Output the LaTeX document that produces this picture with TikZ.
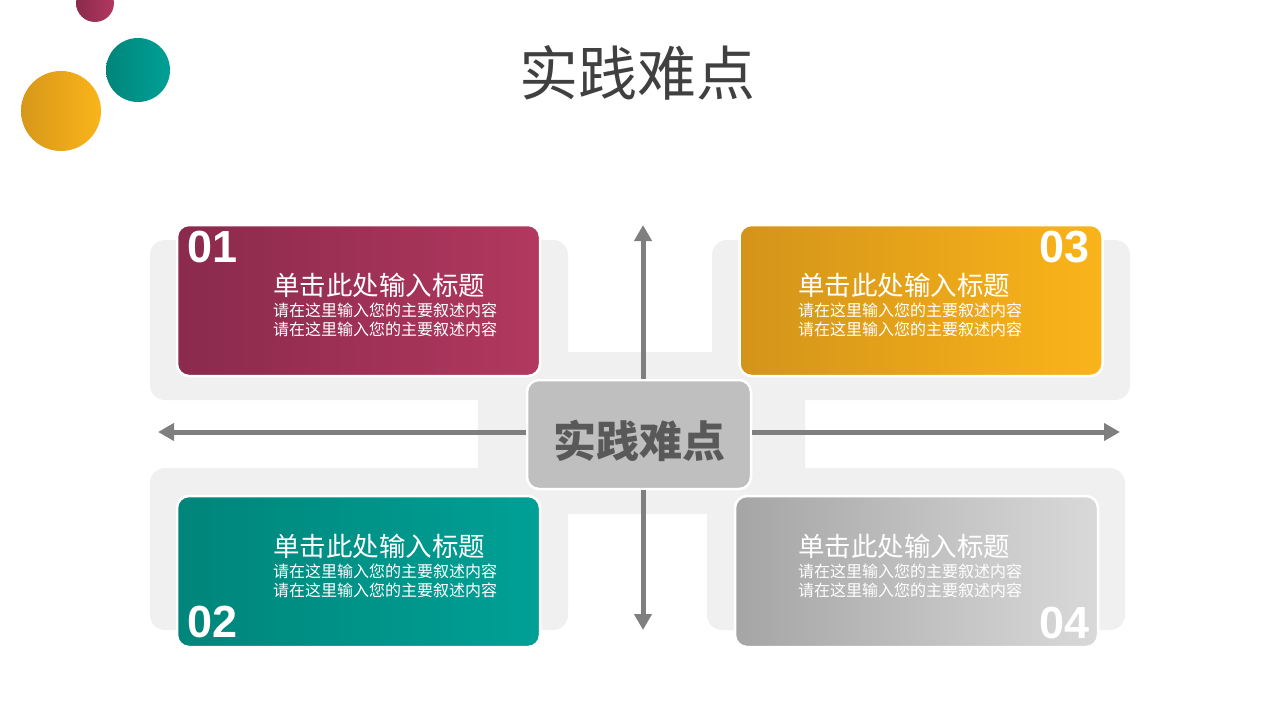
\documentclass[tikz,border=0pt]{standalone}
\usepackage{fontspec}
\setsansfont{Liberation Sans}
\newfontfamily\cjk{Noto Sans CJK SC}
\usetikzlibrary{arrows.meta,positioning}
\definecolor{roseA}{HTML}{8A2A4C}
\definecolor{roseB}{HTML}{B2385F}
\definecolor{amberA}{HTML}{D3941A}
\definecolor{amberB}{HTML}{FAB41A}
\definecolor{tealA}{HTML}{00857A}
\definecolor{tealB}{HTML}{00A096}
\definecolor{silverA}{HTML}{A5A5A5}
\definecolor{silverB}{HTML}{D9D9D9}
\definecolor{panelgray}{HTML}{F0F0F0}
\definecolor{hubgray}{HTML}{BFBFBF}
\definecolor{hubtext}{HTML}{595959}
\definecolor{axisgray}{HTML}{7F7F7F}
\definecolor{titlegray}{HTML}{404040}
\tikzset{
  basic/.style  = {rectangle, rounded corners=12pt, draw=white, line width=2.5pt,
                   minimum width=363pt, minimum height=151pt},
  hub/.style    = {basic, fill=hubgray, minimum width=224pt, minimum height=109pt},
  hubtext/.style = {text=hubtext, inner sep=0pt, font=\cjk\bfseries\fontsize{43}{43}\selectfont},
  head/.style   = {text=white, inner sep=0pt, anchor=west,
                   font=\cjk\fontsize{26.5}{28}\selectfont},
  body/.style   = {text=white, inner sep=0pt, anchor=west, align=left,
                   font=\cjk\fontsize{16}{19}\selectfont},
  num/.style    = {text=white, inner sep=0pt, font=\sffamily\bfseries\fontsize{45}{45}\selectfont},
  panel/.style  = {fill=panelgray, rounded corners=15pt},
  axis/.style   = {draw=axisgray, line width=5pt, -{Triangle[width=17pt,length=16pt]}}
}

\begin{document}
\begin{tikzpicture}[x=1pt, y=-1pt]
\useasboundingbox (0,0) rectangle (1280,720);

% bolas de adorno
\shade[left color=roseA, right color=roseB] (95,3) circle (19);
\shade[left color=tealA, right color=tealB] (138,70) circle (32);
\shade[left color=amberA!90!amberB, right color=amberB] (61,111) circle (40);

\node[text=titlegray, font=\cjk\fontsize{59}{59}\selectfont] (title) at (637,73) {实践难点};

% fondo gris
\fill[panel] (150,240) rectangle (568,400);
\fill[panel] (712,240) rectangle (1130,400);
\fill[panel] (150,468) rectangle (568,630);
\fill[panel] (707,468) rectangle (1125,630);
\fill[panel] (478,352) rectangle (805,514);

% cajas
\node[basic, left color=roseA, right color=roseB] (c1) at (358.5,300.5) {};
\node[basic, left color=amberA, right color=amberB] (c3) at (921,300.5) {};
\node[basic, left color=tealA, right color=tealB] (c2) at (358.5,571.5) {};
\node[basic, left color=silverA, right color=silverB] (c4) at (916.5,571.5) {};

\node[hub] (hub) at (639,434.5) {};
\node[hubtext] (hubt) at (639,441) {实践难点};

\coordinate (tn) at (643,225);
\coordinate (ts) at (643,630);
\coordinate (tw) at (158,432);
\coordinate (te) at (1120,432);
\foreach \side/\tip in {north/tn,south/ts}
  \draw[axis] (hub.\side -| tn) -- (\tip);
\foreach \side/\tip in {west/tw,east/te}
  \draw[axis] (hub.\side |- tw) -- (\tip);

% textos
\foreach \name/\x/\y in {c1/273/285, c3/798/285, c2/273/546, c4/798/546} {
  \node[head] (\name h) at (\x,\y) {单击此处输入标题};
  \node[body] (\name b) at (\x,\y+35) {请在这里输入您的主要叙述内容\\请在这里输入您的主要叙述内容};
}

\node[num, anchor=base west] (n1) at (187,262) {01};
\node[num, anchor=base east] (n3) at (1090,262) {03};
\node[num, anchor=base west] (n2) at (187,637) {02};
\node[num, anchor=base east] (n4) at (1090,638) {04};
\end{tikzpicture}
\end{document}
